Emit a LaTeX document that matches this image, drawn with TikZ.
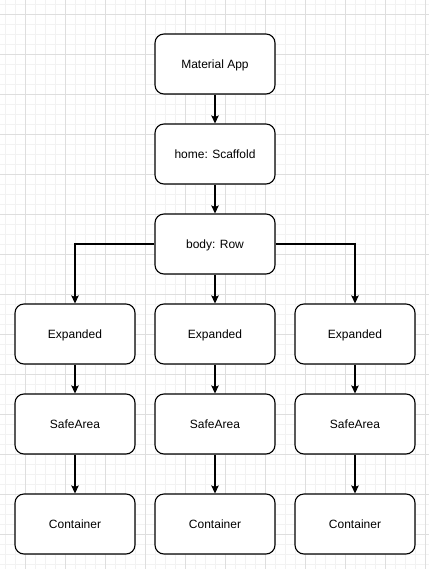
\documentclass[tikz,border=0pt]{standalone}
\usepackage{fontspec}
\setmainfont{Liberation Sans}
\usetikzlibrary{arrows.meta}
\tikzset{
  box/.style={draw=black, line width=1.1pt, rounded corners=9pt, fill=white,
    minimum width=120pt, minimum height=60pt, inner sep=0pt,
    text height=8.6pt, text depth=0pt,
    font=\fontsize{12pt}{14pt}\selectfont},
  conn/.style={line width=1.1pt, -{Stealth[length=8pt,width=7.5pt,inset=1.5pt]}},
  minorgrid/.style={draw=black!5, line width=0.9pt},
  majorgrid/.style={draw=black!13, line width=0.9pt}
}
\begin{document}
\begin{tikzpicture}[x=1pt,y=-1pt]
\useasboundingbox (0,0) rectangle (429,569);
\fill[white] (0,0) rectangle (429,569);
% grid
\foreach \gx in {5.5,15.5,...,429} {\draw[minorgrid] (\gx,0) -- (\gx,569);}
\foreach \gy in {4,14,...,569} {\draw[minorgrid] (0,\gy) -- (429,\gy);}
\foreach \gx in {25.5,65.5,...,429} {\draw[majorgrid] (\gx,0) -- (\gx,569);}
\foreach \gy in {14,54,...,569} {\draw[majorgrid] (0,\gy) -- (429,\gy);}
% nodes
\node[box] (app) at (215,64) {Material App};
\node[box] (home) at (215,154) {home: Scaffold};
\node[box] (row) at (215,244) {body: Row};
\node[box] (e1) at (75,334) {Expanded};
\node[box] (e2) at (215,334) {Expanded};
\node[box] (e3) at (355,334) {Expanded};
\node[box] (s1) at (75,424) {SafeArea};
\node[box] (s2) at (215,424) {SafeArea};
\node[box] (s3) at (355,424) {SafeArea};
\node[box] (c1) at (75,524) {Container};
\node[box] (c2) at (215,524) {Container};
\node[box] (c3) at (355,524) {Container};
% connectors
\draw[conn] (app) -- (home);
\draw[conn] (home) -- (row);
\draw[conn] (row.west) -| (e1.north);
\draw[conn] (row) -- (e2);
\draw[conn] (row.east) -| (e3.north);
\draw[conn] (e1) -- (s1);
\draw[conn] (e2) -- (s2);
\draw[conn] (e3) -- (s3);
\draw[conn] (s1) -- (c1);
\draw[conn] (s2) -- (c2);
\draw[conn] (s3) -- (c3);
\end{tikzpicture}
\end{document}
